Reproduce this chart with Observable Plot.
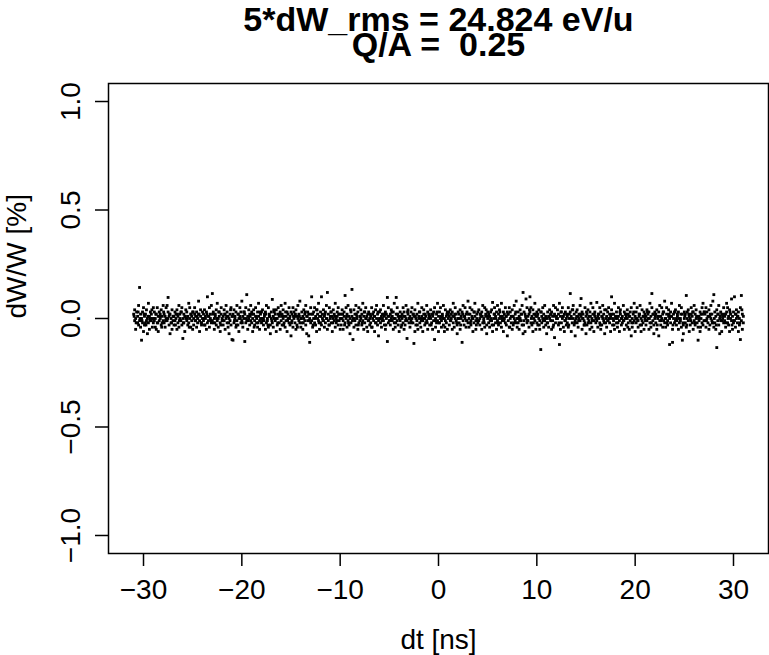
<!DOCTYPE html>
<html><head><meta charset="utf-8">
<script src="https://cdn.jsdelivr.net/npm/d3@7"></script>
<script src="https://cdn.jsdelivr.net/npm/@observablehq/plot@0.6"></script>
<style>
body{margin:0;background:#fff}
svg text{white-space:pre}
</style>
</head><body><div id="chart"></div>
<script>
const titleLine1 = "5*dW_rms = 24.824 eV/u";
const titleLine2 = "Q/A =  0.25";
const xLabel = "dt [ns]";
const yLabel = "dW/W [%]";
const xTicks = [-30, -20, -10, 0, 10, 20, 30];
const yTicks = [-1, -0.5, 0, 0.5, 1];

// [dt (ns), dW/W (%)]
const segA = [
[-31,.02],[-30.9,-.01],[-30.9,.04],[-30.8,0],[-30.8,-.05],[-30.7,.03],[-30.6,-.02],[-30.6,.01],[-30.5,-.03],[-30.5,.06],[-30.4,.143],[-30.4,-.01],[-30.3,.02],[-30.3,-.04],[-30.2,-.10],[-30.2,0],[-30.1,.03],[-30.1,-.02],[-30,.05],[-30,-.06],
[-29.9,.01],[-29.9,-.03],[-29.8,.02],[-29.7,-.01],[-29.7,.04],[-29.6,0],[-29.5,-.02],[-29.5,.07],[-29.4,.01],[-29.4,-.05],[-29.3,.03],[-29.2,-.01],[-29.2,.02],[-29.1,-.04],[-29.1,0],[-29,.05],[-29,-.02],[-29.6,-.07],[-29.3,0],[-29.8,-.02],
[-28.9,-.01],[-28.9,.03],[-28.8,0],[-28.8,-.04],[-28.7,.02],[-28.6,-.02],[-28.6,.05],[-28.5,.01],[-28.5,-.06],[-28.4,.03],[-28.4,-.01],[-28.3,0],[-28.2,.04],[-28.2,-.03],[-28.1,.01],[-28.1,-.02],[-28,.06],[-28,-.01],[-28.7,-.05],[-28.3,.02],
[-27.9,.02],[-27.9,-.02],[-27.8,-.04],[-27.8,.01],[-27.7,0],[-27.7,.05],[-27.6,-.01],[-27.5,.097],[-27.5,.03],[-27.4,-.03],[-27.4,.01],[-27.3,-.07],[-27.3,.02],[-27.2,0],[-27.2,-.02],[-27.1,.04],[-27.1,-.05],[-27,.01],[-27,-.01],[-27.6,.06],
[-26.9,-.03],[-26.9,.01],[-26.8,.03],[-26.8,-.01],[-26.7,0],[-26.7,.02],[-26.6,-.05],[-26.6,.04],[-26.5,-.02],[-26.5,.01],[-26.4,.06],[-26.4,-.04],[-26.3,0],[-26.3,.02],[-26.2,-.01],[-26.2,.03],[-26.1,-.03],[-26.1,.05],[-26,-.092],[-26,0],
[-25.9,.02],[-25.9,-.02],[-25.8,.01],[-25.8,-.06],[-25.7,.04],[-25.7,0],[-25.6,-.01],[-25.6,.03],[-25.5,-.03],[-25.5,.01],[-25.4,.07],[-25.4,-.02],[-25.3,0],[-25.3,.05],[-25.2,-.04],[-25.2,.02],[-25.1,-.01],[-25.1,.01],[-25,.03],[-25,-.05],
[-24.9,0],[-24.9,-.03],[-24.8,.02],[-24.8,.05],[-24.7,-.01],[-24.7,.01],[-24.6,-.04],[-24.6,.03],[-24.5,0],[-24.5,-.02],[-24.4,.08],[-24.4,.02],[-24.3,-.06],[-24.3,-.01],[-24.2,.04],[-24.2,.01],[-24.1,-.02],[-24.1,-.03],[-24,.03],[-24,0],
[-23.9,-.01],[-23.9,.02],[-23.8,.04],[-23.8,-.03],[-23.7,0],[-23.7,.01],[-23.6,-.05],[-23.6,.03],[-23.5,.10],[-23.5,-.02],[-23.4,.01],[-23.4,-.01],[-23.3,.05],[-23.3,-.04],[-23.2,0],[-23.2,.02],[-23.1,-.02],[-23.1,.06],[-23,.115],[-23,-.01],
[-22.9,.03],[-22.9,-.02],[-22.8,0],[-22.8,-.05],[-22.7,.02],[-22.7,.01],[-22.6,-.03],[-22.6,.04],[-22.5,-.01],[-22.5,.07],[-22.4,0],[-22.4,-.04],[-22.3,.03],[-22.3,.01],[-22.2,-.02],[-22.2,-.06],[-22.1,.02],[-22.1,.05],[-22,-.01],[-22,0],
[-21.9,.01],[-21.9,-.03],[-21.8,.04],[-21.8,-.01],[-21.7,.02],[-21.7,-.05],[-21.6,0],[-21.6,.06],[-21.5,-.02],[-21.5,.03],[-21.4,-.04],[-21.4,.01],[-21.3,0],[-21.3,-.07],[-21.2,.02],[-21.2,-.01],[-21.1,.05],[-21.1,-.03],[-21,-.097],[-21,.01],
[-20.9,-.10],[-20.9,.02],[-20.8,-.02],[-20.8,.04],[-20.7,0],[-20.7,.01],[-20.6,-.04],[-20.6,.03],[-20.5,-.01],[-20.5,.06],[-20.4,.02],[-20.4,-.03],[-20.3,0],[-20.3,-.06],[-20.2,.01],[-20.2,.05],[-20.1,-.02],[-20.1,.03],[-20,-.01],[-20,.08]
];
const segB = [
[-19.9,.01],[-19.9,-.04],[-19.8,.03],[-19.8,0],[-19.7,-.106],[-19.7,.02],[-19.6,-.02],[-19.6,.05],[-19.5,.11],[-19.5,-.01],[-19.4,.01],[-19.4,-.05],[-19.3,.04],[-19.3,0],[-19.2,-.03],[-19.2,.02],[-19.1,-.01],[-19.1,.06],[-19,.03],[-19,-.02],
[-18.9,0],[-18.9,-.06],[-18.8,.02],[-18.8,.04],[-18.7,-.01],[-18.7,-.03],[-18.6,.01],[-18.6,.05],[-18.5,-.02],[-18.5,0],[-18.4,.03],[-18.4,-.04],[-18.3,.01],[-18.3,.07],[-18.2,-.01],[-18.2,-.05],[-18.1,.02],[-18.1,0],[-18,-.02],[-18,.03],
[-17.9,.04],[-17.9,-.01],[-17.8,0],[-17.8,-.03],[-17.7,.02],[-17.7,.01],[-17.6,-.05],[-17.6,.03],[-17.5,-.02],[-17.5,.06],[-17.4,0],[-17.4,-.01],[-17.3,.05],[-17.3,-.04],[-17.2,.01],[-17.2,.02],[-17.1,-.03],[-17.1,-.07],[-17,.03],[-17,0],
[-16.9,.088],[-16.9,-.02],[-16.8,.01],[-16.8,-.04],[-16.7,.03],[-16.7,0],[-16.6,-.01],[-16.6,.02],[-16.5,-.06],[-16.5,.04],[-16.4,0],[-16.4,-.03],[-16.3,.02],[-16.3,.05],[-16.2,-.02],[-16.2,.01],[-16.1,-.05],[-16.1,.03],[-16,-.01],[-16,.06],
[-15.9,-.03],[-15.9,.02],[-15.8,0],[-15.8,.04],[-15.7,-.02],[-15.7,.01],[-15.6,.07],[-15.6,-.04],[-15.5,.01],[-15.5,-.01],[-15.4,.03],[-15.4,-.06],[-15.3,0],[-15.3,.02],[-15.2,-.02],[-15.2,.05],[-15.1,-.03],[-15.1,.01],[-15,.03],[-15,-.08],
[-14.9,.02],[-14.9,-.01],[-14.8,-.04],[-14.8,.05],[-14.7,0],[-14.7,.03],[-14.6,-.02],[-14.6,.01],[-14.5,-.05],[-14.5,.04],[-14.4,.01],[-14.4,-.03],[-14.3,.06],[-14.3,0],[-14.2,-.01],[-14.2,.02],[-14.1,-.02],[-14.1,.08],[-14,0],[-14,-.04],
[-13.9,.03],[-13.9,-.02],[-13.8,.01],[-13.8,-.05],[-13.7,0],[-13.7,.04],[-13.6,-.01],[-13.6,.02],[-13.5,-.03],[-13.5,.06],[-13.4,.01],[-13.4,-.07],[-13.3,.03],[-13.3,-.01],[-13.2,-.08],[-13.2,.02],[-13.1,-.11],[-13.1,0],[-13,.05],[-13,-.02],
[-12.9,.10],[-12.9,-.01],[-12.8,.02],[-12.8,-.04],[-12.7,0],[-12.7,.03],[-12.6,-.02],[-12.6,.05],[-12.5,.01],[-12.5,-.03],[-12.4,.04],[-12.4,-.06],[-12.3,0],[-12.3,.02],[-12.2,-.01],[-12.2,.07],[-12.1,-.05],[-12.1,.01],[-12,.03],[-12,-.02],
[-11.9,.10],[-11.9,-.03],[-11.8,.02],[-11.8,0],[-11.7,-.01],[-11.7,.04],[-11.6,-.04],[-11.6,.01],[-11.5,.03],[-11.5,-.02],[-11.4,0],[-11.4,.06],[-11.3,.12],[-11.3,-.05],[-11.2,.02],[-11.2,-.01],[-11.1,.05],[-11.1,-.03],[-11,0],[-11,.01],
[-10.9,-.02],[-10.9,.03],[-10.8,.01],[-10.8,-.06],[-10.7,.04],[-10.7,0],[-10.6,-.01],[-10.6,.02],[-10.5,-.04],[-10.5,.07],[-10.4,0],[-10.4,-.02],[-10.3,.03],[-10.3,.01],[-10.2,-.03],[-10.2,.05],[-10.1,-.01],[-10.1,.02],[-10,-.05],[-10,0]
];
const segC = [
[-9.9,.02],[-9.9,-.03],[-9.8,0],[-9.8,.04],[-9.7,-.01],[-9.7,-.05],[-9.6,.01],[-9.6,.03],[-9.5,.106],[-9.5,-.02],[-9.4,.05],[-9.4,0],[-9.3,-.04],[-9.3,.02],[-9.2,-.01],[-9.2,.06],[-9.1,.01],[-9.1,-.03],[-9,0],[-9,-.07],
[-8.9,.03],[-8.9,-.02],[-8.8,.134],[-8.8,.01],[-8.7,-.097],[-8.7,0],[-8.6,.04],[-8.6,-.04],[-8.5,.02],[-8.5,-.01],[-8.4,.06],[-8.4,-.03],[-8.3,0],[-8.3,.01],[-8.2,-.05],[-8.2,.03],[-8.1,-.02],[-8.1,.05],[-8,.01],[-8,-.01],
[-7.9,0],[-7.9,.04],[-7.8,-.03],[-7.8,.02],[-7.7,-.01],[-7.7,.07],[-7.6,.01],[-7.6,-.05],[-7.5,.03],[-7.5,-.02],[-7.4,0],[-7.4,.05],[-7.3,-.04],[-7.3,.01],[-7.2,.02],[-7.2,-.06],[-7.1,-.01],[-7.1,.03],[-7,0],[-7,-.03],
[-6.9,.01],[-6.9,-.02],[-6.8,.05],[-6.8,-.04],[-6.7,0],[-6.7,.02],[-6.6,-.01],[-6.6,.03],[-6.5,-.06],[-6.5,.01],[-6.4,.04],[-6.4,-.02],[-6.3,0],[-6.3,.06],[-6.2,-.03],[-6.2,.02],[-6.1,-.01],[-6.1,-.08],[-6,.03],[-6,0],
[-5.9,-.02],[-5.9,.04],[-5.8,.01],[-5.8,-.04],[-5.7,.02],[-5.7,0],[-5.6,-.01],[-5.6,.06],[-5.5,-.03],[-5.5,.01],[-5.4,.03],[-5.4,-.05],[-5.3,0],[-5.3,.02],[-5.2,-.106],[-5.2,.097],[-5.1,-.02],[-5.1,.05],[-5,.01],[-5,-.01],
[-4.9,.02],[-4.9,-.03],[-4.8,0],[-4.8,.04],[-4.7,-.01],[-4.7,.01],[-4.6,-.05],[-4.6,.03],[-4.5,.07],[-4.5,-.02],[-4.4,0],[-4.4,-.04],[-4.3,.097],[-4.3,.02],[-4.2,-.01],[-4.2,.05],[-4.1,-.03],[-4.1,.01],[-4,0],[-4,-.06],
[-3.9,.03],[-3.9,-.01],[-3.8,-.04],[-3.8,.01],[-3.7,.02],[-3.7,0],[-3.6,-.02],[-3.6,.05],[-3.5,-.05],[-3.5,.03],[-3.4,.01],[-3.4,-.03],[-3.3,.06],[-3.3,0],[-3.2,-.092],[-3.2,-.01],[-3.1,.02],[-3.1,.04],[-3,-.02],[-3,0],
[-2.9,.01],[-2.9,-.04],[-2.8,.03],[-2.8,-.01],[-2.7,0],[-2.7,.05],[-2.6,-.02],[-2.6,.02],[-2.5,-.115],[-2.5,.01],[-2.4,-.06],[-2.4,.04],[-2.3,0],[-2.3,-.03],[-2.2,.02],[-2.2,-.01],[-2.1,.07],[-2.1,-.05],[-2,.01],[-2,0],
[-1.9,-.02],[-1.9,.03],[-1.8,0],[-1.8,-.04],[-1.7,.01],[-1.7,.05],[-1.6,-.01],[-1.6,-.06],[-1.5,.02],[-1.5,.04],[-1.4,-.03],[-1.4,0],[-1.3,.01],[-1.3,-.02],[-1.2,.06],[-1.2,-.01],[-1.1,.03],[-1.1,-.05],[-1,0],[-1,.02],
[-.9,.01],[-.9,-.03],[-.8,.04],[-.8,0],[-.7,-.02],[-.7,.02],[-.6,-.05],[-.6,.01],[-.5,.03],[-.5,-.01],[-.4,-.097],[-.4,.05],[-.3,-.04],[-.3,0],[-.2,.02],[-.2,-.02],[-.1,.07],[-.1,-.01],[0,.01],[0,-.06]
];
const segD = [
[.1,.03],[.1,-.02],[.2,0],[.2,.05],[.3,-.01],[.3,-.04],[.4,.02],[.4,.01],[.5,-.03],[.5,.06],[.6,0],[.6,-.06],[.7,.04],[.7,-.01],[.8,.01],[.8,-.02],[.9,.03],[.9,-.05],[1,0],[1,.02],
[1.1,-.03],[1.1,.01],[1.2,.04],[1.2,-.01],[1.3,0],[1.3,.02],[1.4,-.05],[1.4,.03],[1.5,-.02],[1.5,.07],[1.6,.01],[1.6,-.04],[1.7,0],[1.7,.05],[1.8,-.01],[1.8,.02],[1.9,-.03],[1.9,-.07],[2,.03],[2,0],
[2.1,.02],[2.1,-.02],[2.2,-.05],[2.2,.04],[2.3,0],[2.3,.01],[2.4,-.11],[2.4,.03],[2.5,-.01],[2.5,.06],[2.6,.01],[2.6,-.03],[2.7,0],[2.7,.05],[2.8,-.04],[2.8,.02],[2.9,-.01],[2.9,.03],[3,-.02],[3,.08],
[3.1,0],[3.1,-.04],[3.2,.02],[3.2,.05],[3.3,-.01],[3.3,-.03],[3.4,.01],[3.4,.04],[3.5,-.06],[3.5,0],[3.6,.03],[3.6,-.02],[3.7,.01],[3.7,.07],[3.8,-.01],[3.8,-.05],[3.9,.02],[3.9,0],[4,-.02],[4,.03],
[4.1,.04],[4.1,-.01],[4.2,0],[4.2,-.03],[4.3,.02],[4.3,.01],[4.4,-.05],[4.4,.03],[4.5,-.02],[4.5,.06],[4.6,0],[4.6,-.01],[4.7,.05],[4.7,-.04],[4.8,.01],[4.8,.02],[4.9,-.03],[4.9,-.07],[5,.03],[5,0],
[5.1,.02],[5.1,-.02],[5.2,.01],[5.2,-.04],[5.3,.03],[5.3,0],[5.4,-.01],[5.4,.04],[5.5,.074],[5.5,-.06],[5.6,0],[5.6,-.03],[5.7,.02],[5.7,.05],[5.8,-.02],[5.8,.01],[5.9,-.05],[5.9,.03],[6,-.01],[6,.06],
[6.1,-.03],[6.1,.02],[6.2,0],[6.2,.04],[6.3,-.02],[6.3,.01],[6.4,.07],[6.4,-.04],[6.5,.01],[6.5,-.01],[6.6,.03],[6.6,-.06],[6.7,0],[6.7,.02],[6.8,-.02],[6.8,.05],[6.9,-.03],[6.9,.01],[7,.03],[7,-.08],
[7.1,.02],[7.1,-.01],[7.2,-.04],[7.2,.05],[7.3,0],[7.3,.03],[7.4,-.02],[7.4,.01],[7.5,-.05],[7.5,.04],[7.6,.01],[7.6,-.03],[7.7,.06],[7.7,0],[7.8,-.01],[7.8,.02],[7.9,-.02],[7.9,.08],[8,0],[8,-.04],
[8.1,.03],[8.1,-.02],[8.2,.01],[8.2,-.05],[8.3,0],[8.3,.04],[8.4,-.01],[8.4,.02],[8.5,-.03],[8.5,.06],[8.6,.12],[8.6,-.07],[8.7,.03],[8.7,-.01],[8.8,-.06],[8.8,.02],[8.9,.09],[8.9,0],[9,.05],[9,-.02],
[9.1,.01],[9.1,-.01],[9.2,.02],[9.2,-.04],[9.3,.10],[9.3,.03],[9.4,-.02],[9.4,.05],[9.5,.01],[9.5,-.03],[9.6,.04],[9.6,-.06],[9.7,0],[9.7,.02],[9.8,-.01],[9.8,.07],[9.9,-.05],[9.9,.01],[10,.03],[10,-.02]
];
const segE = [
[10.1,.02],[10.1,-.03],[10.2,0],[10.2,.04],[10.3,-.01],[10.3,-.05],[10.4,-.143],[10.4,.03],[10.5,.01],[10.5,-.02],[10.6,.05],[10.6,0],[10.7,-.04],[10.7,.02],[10.8,-.01],[10.8,.06],[10.9,.01],[10.9,-.03],[11,0],[11,-.07],
[11.1,.03],[11.1,-.02],[11.2,.01],[11.2,-.04],[11.3,0],[11.3,.04],[11.4,-.01],[11.4,.02],[11.5,-.05],[11.5,.03],[11.6,.01],[11.6,-.01],[11.7,.06],[11.7,-.03],[11.8,-.088],[11.8,.02],[11.9,-.02],[11.9,.05],[12,.01],[12,0],
[12.1,0],[12.1,.04],[12.2,-.03],[12.2,.02],[12.3,-.12],[12.3,.07],[12.4,.01],[12.4,-.05],[12.5,.03],[12.5,-.02],[12.6,0],[12.6,.05],[12.7,-.04],[12.7,.01],[12.8,.02],[12.8,-.06],[12.9,-.01],[12.9,.03],[13,0],[13,-.03],
[13.1,.01],[13.1,-.02],[13.2,.05],[13.2,-.04],[13.3,0],[13.3,.02],[13.4,.115],[13.4,.03],[13.5,-.06],[13.5,.01],[13.6,.04],[13.6,-.02],[13.7,0],[13.7,.06],[13.8,-.03],[13.8,.02],[13.9,-.01],[13.9,-.08],[14,.03],[14,0],
[14.1,-.02],[14.1,.04],[14.2,.01],[14.2,-.04],[14.3,.02],[14.3,0],[14.4,-.01],[14.4,.06],[14.5,.092],[14.5,.01],[14.6,.03],[14.6,-.05],[14.7,0],[14.7,.02],[14.8,-.03],[14.8,-.01],[14.9,.05],[14.9,-.02],[15,.01],[15,-.07],
[15.1,.02],[15.1,-.03],[15.2,0],[15.2,.04],[15.3,-.01],[15.3,.01],[15.4,-.05],[15.4,.03],[15.5,.07],[15.5,-.02],[15.6,0],[15.6,-.04],[15.7,.02],[15.7,.05],[15.8,-.01],[15.8,-.06],[15.9,.01],[15.9,.03],[16,0],[16,-.02],
[16.1,.074],[16.1,-.01],[16.2,-.04],[16.2,.01],[16.3,.02],[16.3,0],[16.4,-.02],[16.4,.05],[16.5,-.05],[16.5,.03],[16.6,.01],[16.6,-.03],[16.7,.06],[16.7,0],[16.8,-.01],[16.8,.02],[16.9,.04],[16.9,-.07],[17,-.02],[17,0],
[17.1,.01],[17.1,-.04],[17.2,.03],[17.2,-.01],[17.3,0],[17.3,.05],[17.4,-.02],[17.4,.02],[17.5,-.06],[17.5,.01],[17.6,.10],[17.6,.04],[17.7,0],[17.7,-.03],[17.8,.02],[17.8,-.01],[17.9,.07],[17.9,-.05],[18,.01],[18,0],
[18.1,-.02],[18.1,.03],[18.2,0],[18.2,-.04],[18.3,.01],[18.3,.05],[18.4,-.01],[18.4,-.06],[18.5,.02],[18.5,.04],[18.6,-.03],[18.6,0],[18.7,.01],[18.7,-.02],[18.8,.06],[18.8,-.01],[18.9,.03],[18.9,-.05],[19,0],[19,.02],
[19.1,.01],[19.1,-.03],[19.2,.04],[19.2,0],[19.3,-.02],[19.3,.02],[19.4,-.05],[19.4,.01],[19.5,.03],[19.5,-.01],[19.6,-.08],[19.6,.05],[19.7,-.04],[19.7,0],[19.8,.02],[19.8,-.02],[19.9,.07],[19.9,-.01],[20,.01],[20,-.06]
];
const segF = [
[20.1,.03],[20.1,-.02],[20.2,0],[20.2,.05],[20.3,-.01],[20.3,-.04],[20.4,.02],[20.4,.01],[20.5,-.03],[20.5,.06],[20.6,0],[20.6,-.06],[20.7,.04],[20.7,-.01],[20.8,.01],[20.8,-.02],[20.9,.03],[20.9,-.05],[21,0],[21,.02],
[21.1,-.03],[21.1,.01],[21.2,.04],[21.2,-.01],[21.3,0],[21.3,.02],[21.4,-.05],[21.4,.03],[21.5,-.02],[21.5,.07],[21.6,.01],[21.6,-.04],[21.7,.115],[21.7,.05],[21.8,-.01],[21.8,.02],[21.9,-.03],[21.9,-.07],[22,.03],[22,0],
[22.1,.02],[22.1,-.02],[22.2,-.05],[22.2,.04],[22.3,0],[22.3,.01],[22.4,-.08],[22.4,.03],[22.5,-.01],[22.5,.06],[22.6,.01],[22.6,-.03],[22.7,0],[22.7,.05],[22.8,-.04],[22.8,.02],[22.9,-.01],[22.9,.03],[23,-.02],[23,.08],
[23.1,0],[23.1,-.04],[23.2,.02],[23.2,.05],[23.3,-.01],[23.3,-.03],[23.4,.01],[23.4,.04],[23.5,-.12],[23.5,0],[23.6,.03],[23.6,-.02],[23.7,.01],[23.7,.07],[23.8,-.11],[23.8,-.05],[23.9,.02],[23.9,0],[24,-.02],[24,.03],
[24.1,.04],[24.1,-.01],[24.2,0],[24.2,-.03],[24.3,.02],[24.3,.01],[24.4,-.05],[24.4,.03],[24.5,-.02],[24.5,.06],[24.6,0],[24.6,-.01],[24.7,.05],[24.7,-.04],[24.8,-.10],[24.8,.02],[24.9,-.03],[24.9,-.07],[25,.03],[25,0],
[25.1,.02],[25.1,-.02],[25.2,.106],[25.2,-.04],[25.3,.03],[25.3,0],[25.4,-.01],[25.4,.04],[25.5,.01],[25.5,-.06],[25.6,0],[25.6,-.03],[25.7,.02],[25.7,.05],[25.8,-.02],[25.8,.01],[25.9,-.05],[25.9,.03],[26,-.01],[26,.06],
[26.1,-.03],[26.1,.02],[26.2,0],[26.2,.04],[26.3,-.02],[26.3,.01],[26.4,-.10],[26.4,-.04],[26.5,.01],[26.5,-.01],[26.6,.03],[26.6,-.06],[26.7,0],[26.7,.02],[26.8,-.02],[26.8,.05],[26.9,-.03],[26.9,.07],[27,.03],[27,-.01],
[27.1,.02],[27.1,-.01],[27.2,-.04],[27.2,.05],[27.3,0],[27.3,.03],[27.4,-.02],[27.4,.01],[27.5,-.05],[27.5,.04],[27.6,.01],[27.6,-.03],[27.7,.06],[27.7,0],[27.8,-.01],[27.8,.02],[27.9,-.02],[27.9,.08],[28,.11],[28,-.04],
[28.1,.03],[28.1,-.02],[28.2,.01],[28.2,-.05],[28.3,-.134],[28.3,.04],[28.4,-.01],[28.4,.02],[28.5,-.03],[28.5,.06],[28.6,0],[28.6,-.07],[28.7,.03],[28.7,-.01],[28.8,-.06],[28.8,.02],[28.9,.01],[28.9,0],[29,.05],[29,-.02],
[29.1,.01],[29.1,-.01],[29.2,.02],[29.2,-.04],[29.3,.07],[29.3,.03],[29.4,-.02],[29.4,.05],[29.5,.01],[29.5,-.03],[29.6,.04],[29.6,-.06],[29.7,0],[29.7,.02],[29.8,-.01],[29.8,.09],[29.9,-.05],[29.9,.01],[30,.03],[30,-.02],
[30.1,.10],[30.1,-.01],[30.2,.02],[30.2,-.04],[30.3,0],[30.3,.04],[30.4,-.02],[30.4,.01],[30.5,-.06],[30.5,.03],[30.6,0],[30.6,-.03],[30.7,-.097],[30.7,.05],[30.8,.106],[30.8,-.01],[30.9,.02],[30.9,-.05],[31,.01],[31,-.02]
];
// extra core points between the columns above
const segG = [
[-30.95,.01],[-30.75,-.02],[-30.55,.03],[-30.35,0],[-30.15,-.01],[-29.95,.02],[-29.75,-.03],[-29.55,.01],[-29.35,-.01],[-29.15,.04],
[-28.95,0],[-28.75,.02],[-28.55,-.02],[-28.35,.01],[-28.15,-.04],[-27.95,.03],[-27.75,-.01],[-27.55,0],[-27.35,.02],[-27.15,-.02],
[-26.95,.01],[-26.75,-.03],[-26.55,.02],[-26.35,-.01],[-26.15,.03],[-25.95,-.02],[-25.75,.01],[-25.55,0],[-25.35,-.04],[-25.15,.02],
[-24.95,.03],[-24.75,-.01],[-24.55,.01],[-24.35,.02],[-24.15,-.02],[-23.95,0],[-23.75,-.03],[-23.55,.02],[-23.35,.01],[-23.15,-.01],
[-22.95,.02],[-22.75,-.02],[-22.55,0],[-22.35,.03],[-22.15,-.03],[-21.95,-.01],[-21.75,.02],[-21.55,.01],[-21.35,-.02],[-21.15,.04],
[-20.95,.01],[-20.75,-.01],[-20.55,-.03],[-20.35,.02],[-20.15,0],[-19.95,-.02],[-19.75,.03],[-19.55,0],[-19.35,-.01],[-19.15,.01],
[-18.95,.02],[-18.75,-.04],[-18.55,.01],[-18.35,-.02],[-18.15,.03],[-17.95,0],[-17.75,-.01],[-17.55,.02],[-17.35,-.03],[-17.15,.01],
[-16.95,-.01],[-16.75,.04],[-16.55,0],[-16.35,-.02],[-16.15,.02],[-15.95,.01],[-15.75,-.03],[-15.55,.03],[-15.35,-.01],[-15.15,0],
[-14.95,-.02],[-14.75,.01],[-14.55,.02],[-14.35,-.04],[-14.15,.01],[-13.95,0],[-13.75,-.02],[-13.55,.03],[-13.35,.01],[-13.15,-.01],
[-12.95,.02],[-12.75,-.03],[-12.55,0],[-12.35,.04],[-12.15,-.02],[-11.95,.01],[-11.75,-.01],[-11.55,.02],[-11.35,0],[-11.15,-.03],
[-10.95,.03],[-10.75,-.02],[-10.55,.01],[-10.35,-.01],[-10.15,.02],[-9.95,0],[-9.75,.02],[-9.55,-.03],[-9.35,.01],[-9.15,-.02],
[-8.95,.04],[-8.75,-.01],[-8.55,0],[-8.35,.02],[-8.15,-.03],[-7.95,.01],[-7.75,-.02],[-7.55,.03],[-7.35,0],[-7.15,-.01],
[-6.95,.02],[-6.75,-.04],[-6.55,.01],[-6.35,-.02],[-6.15,.03],[-5.95,0],[-5.75,-.01],[-5.55,.02],[-5.35,-.03],[-5.15,.01],
[-4.95,-.01],[-4.75,.03],[-4.55,0],[-4.35,-.02],[-4.15,.02],[-3.95,.01],[-3.75,-.03],[-3.55,.01],[-3.35,-.01],[-3.15,.03],
[-2.95,0],[-2.75,-.02],[-2.55,.02],[-2.35,.01],[-2.15,-.03],[-1.95,.03],[-1.75,-.01],[-1.55,0],[-1.35,.02],[-1.15,-.02],
[-.95,.01],[-.75,-.03],[-.55,.02],[-.35,-.01],[-.15,.03],[.05,-.02],[.25,.01],[.45,0],[.65,-.04],[.85,.02],
[1.05,.03],[1.25,-.01],[1.45,.01],[1.65,.02],[1.85,-.02],[2.05,0],[2.25,-.03],[2.45,.02],[2.65,.01],[2.85,-.01],
[3.05,.02],[3.25,-.02],[3.45,0],[3.65,.03],[3.85,-.03],[4.05,-.01],[4.25,.02],[4.45,.01],[4.65,-.02],[4.85,.04],
[5.05,.01],[5.25,-.01],[5.45,-.03],[5.65,.02],[5.85,0],[6.05,-.02],[6.25,.03],[6.45,0],[6.65,-.01],[6.85,.01],
[7.05,.02],[7.25,-.04],[7.45,.01],[7.65,-.02],[7.85,.03],[8.05,0],[8.25,-.01],[8.45,.02],[8.65,-.03],[8.85,.01],
[9.05,-.01],[9.25,.04],[9.45,0],[9.65,-.02],[9.85,.02],[10.05,.01],[10.25,-.03],[10.45,.03],[10.65,-.01],[10.85,0],
[11.05,-.02],[11.25,.01],[11.45,.02],[11.65,-.04],[11.85,.01],[12.05,0],[12.25,-.02],[12.45,.03],[12.65,.01],[12.85,-.01],
[13.05,.02],[13.25,-.03],[13.45,0],[13.65,.04],[13.85,-.02],[14.05,.01],[14.25,-.01],[14.45,.02],[14.65,0],[14.85,-.03],
[15.05,.03],[15.25,-.02],[15.45,.01],[15.65,-.01],[15.85,.02],[16.05,0],[16.25,.02],[16.45,-.03],[16.65,.01],[16.85,-.02],
[17.05,.04],[17.25,-.01],[17.45,0],[17.65,.02],[17.85,-.03],[18.05,.01],[18.25,-.02],[18.45,.03],[18.65,0],[18.85,-.01],
[19.05,.02],[19.25,-.04],[19.45,.01],[19.65,-.02],[19.85,.03],[20.05,0],[20.25,-.01],[20.45,.02],[20.65,-.03],[20.85,.01],
[21.05,-.01],[21.25,.03],[21.45,0],[21.65,-.02],[21.85,.02],[22.05,.01],[22.25,-.03],[22.45,.01],[22.65,-.01],[22.85,.03],
[23.05,0],[23.25,-.02],[23.45,.02],[23.65,.01],[23.85,-.03],[24.05,.03],[24.25,-.01],[24.45,0],[24.65,.02],[24.85,-.02],
[25.05,.01],[25.25,-.03],[25.45,.02],[25.65,-.01],[25.85,.03],[26.05,-.02],[26.25,.01],[26.45,0],[26.65,-.04],[26.85,.02],
[27.05,.03],[27.25,-.01],[27.45,.01],[27.65,.02],[27.85,-.02],[28.05,0],[28.25,-.03],[28.45,.02],[28.65,.01],[28.85,-.01],
[29.05,.02],[29.25,-.02],[29.45,0],[29.65,.03],[29.85,-.03],[30.05,-.01],[30.25,.02],[30.45,.01],[30.65,-.02],[30.85,.04]
];

const points = [...segA, ...segB, ...segC, ...segD, ...segE, ...segF, ...segG].map(([dt, dW]) => ({dt, dW}));
const font = "'Liberation Sans', Arial, Helvetica, sans-serif";

const chart = Plot.plot({
  width: 769,
  height: 655,
  marginLeft: 108,
  marginRight: 1,
  marginTop: 83,
  marginBottom: 102,
  style: {fontFamily: font, background: "#fff", color: "#000"},
  x: {domain: [-33.56, 33.56]},
  y: {domain: [-1.083, 1.083]},
  marks: [
    Plot.dot(points, {x: "dt", y: "dW", symbol: "square", r: 1.6, fill: "#000", stroke: null}),
    Plot.frame({stroke: "#000", strokeWidth: 1.5}),
    Plot.axisX({ticks: xTicks, tickSize: 13, tickPadding: 13, fontSize: 28, strokeWidth: 1.5, label: null}),
    Plot.axisY({ticks: yTicks, tickSize: 13, tickPadding: 16, tickRotate: -90, fontSize: 28, strokeWidth: 1.5, tickFormat: d3.format(".1f"), label: null}),
    Plot.text([xLabel], {frameAnchor: "bottom", dy: 95, lineAnchor: "bottom", fontSize: 28}),
    Plot.text([yLabel], {frameAnchor: "left", dx: -83, rotate: -90, lineAnchor: "bottom", fontSize: 28}),
    Plot.text([titleLine1], {frameAnchor: "top", dy: -53, lineAnchor: "bottom", fontSize: 34, fontWeight: "bold"}),
    Plot.text([titleLine2], {frameAnchor: "top", dy: -28, lineAnchor: "bottom", fontSize: 34, fontWeight: "bold"})
  ]
});
document.getElementById("chart").appendChild(chart);
</script>
</body></html>
